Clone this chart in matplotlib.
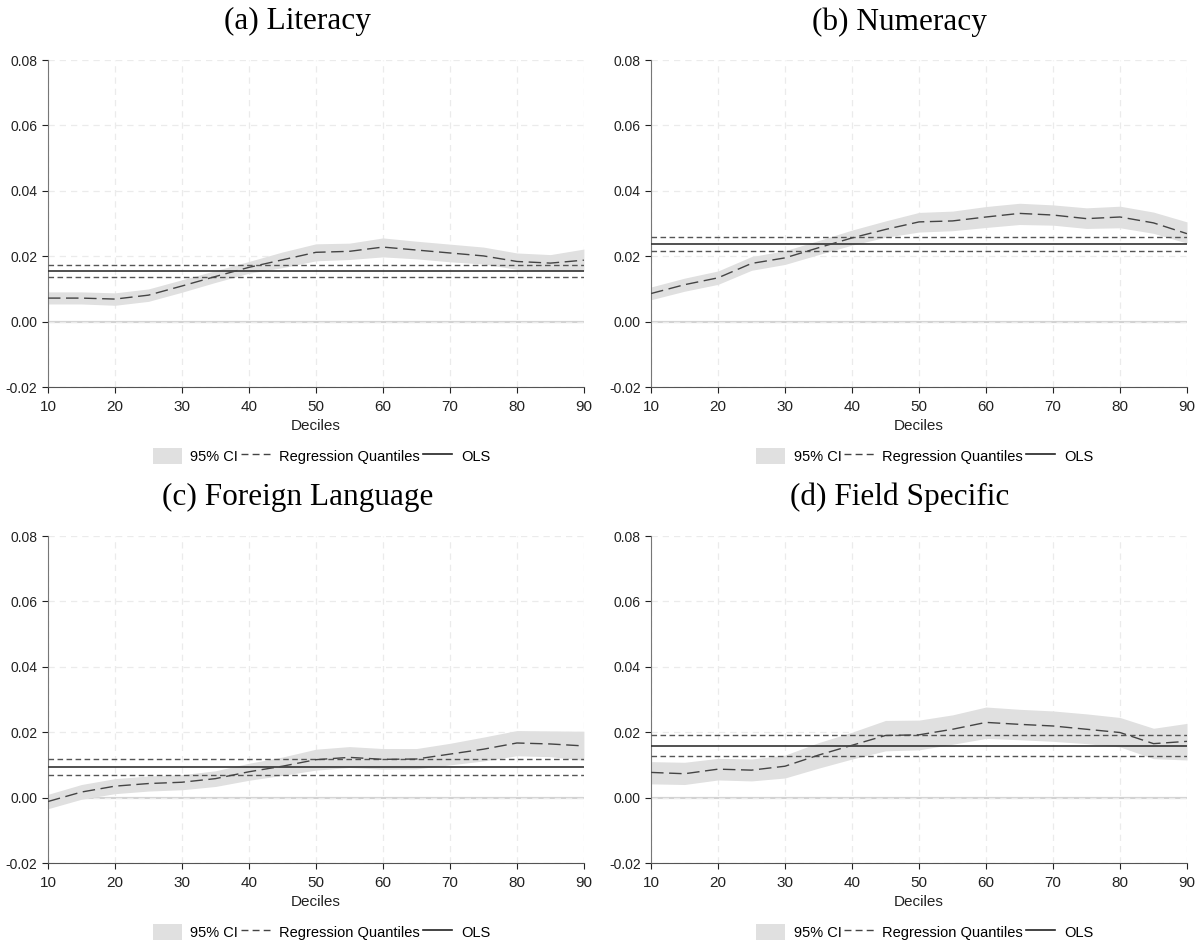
import numpy as np
import matplotlib
matplotlib.use("Agg")
from matplotlib import pyplot as plt
from matplotlib.patches import Patch
from matplotlib.lines import Line2D

plt.rcParams['font.family'] = ['Liberation Sans', 'DejaVu Sans']

deciles = [10, 15, 20, 25, 30, 35, 40, 45, 50, 55, 60, 65, 70, 75, 80, 85, 90]

titles = ["(a) Literacy", "(b) Numeracy", "(c) Foreign Language", "(d) Field Specific"]

# quantile regression estimates
lit_q = [0.0072, 0.0072, 0.0069, 0.0081, 0.0109, 0.0138, 0.0166, 0.0189, 0.0212, 0.0215, 0.0228, 0.0219, 0.0210, 0.0201, 0.0184, 0.0179, 0.0188]
num_q = [0.0086, 0.0113, 0.0134, 0.0178, 0.0195, 0.0226, 0.0256, 0.0282, 0.0305, 0.0308, 0.0320, 0.0331, 0.0326, 0.0315, 0.0320, 0.0302, 0.0269]
for_q = [-0.0012, 0.0017, 0.0035, 0.0043, 0.0047, 0.0058, 0.0079, 0.0096, 0.0116, 0.0123, 0.0117, 0.0118, 0.0133, 0.0148, 0.0167, 0.0164, 0.0158]
fld_q = [0.0077, 0.0073, 0.0087, 0.0084, 0.0096, 0.0130, 0.0160, 0.0190, 0.0192, 0.0209, 0.0230, 0.0224, 0.0219, 0.0209, 0.0199, 0.0165, 0.0172]

# 95% CI bounds
lit_lo = [0.0054, 0.0054, 0.0050, 0.0062, 0.0090, 0.0120, 0.0148, 0.0165, 0.0186, 0.0190, 0.0198, 0.0192, 0.0183, 0.0176, 0.0160, 0.0155, 0.0155]
lit_hi = [0.0091, 0.0091, 0.0088, 0.0100, 0.0128, 0.0156, 0.0184, 0.0213, 0.0238, 0.0240, 0.0256, 0.0246, 0.0237, 0.0228, 0.0210, 0.0205, 0.0222]
num_lo = [0.0067, 0.0093, 0.0114, 0.0157, 0.0175, 0.0205, 0.0234, 0.0258, 0.0274, 0.0278, 0.0288, 0.0297, 0.0295, 0.0285, 0.0287, 0.0270, 0.0240]
num_hi = [0.0106, 0.0133, 0.0155, 0.0199, 0.0217, 0.0248, 0.0280, 0.0308, 0.0334, 0.0338, 0.0352, 0.0362, 0.0357, 0.0348, 0.0353, 0.0335, 0.0305]
for_lo = [-0.0034, -0.0005, 0.0012, 0.0020, 0.0024, 0.0034, 0.0053, 0.0068, 0.0084, 0.0092, 0.0087, 0.0088, 0.0100, 0.0112, 0.0128, 0.0125, 0.0114]
for_hi = [0.0010, 0.0040, 0.0058, 0.0066, 0.0070, 0.0082, 0.0105, 0.0124, 0.0148, 0.0156, 0.0150, 0.0150, 0.0166, 0.0185, 0.0205, 0.0204, 0.0203]
fld_lo = [0.0042, 0.0040, 0.0054, 0.0051, 0.0060, 0.0090, 0.0118, 0.0143, 0.0146, 0.0163, 0.0181, 0.0177, 0.0172, 0.0165, 0.0155, 0.0119, 0.0115]
fld_hi = [0.0110, 0.0108, 0.0120, 0.0118, 0.0130, 0.0168, 0.0200, 0.0236, 0.0237, 0.0253, 0.0277, 0.0270, 0.0265, 0.0256, 0.0245, 0.0212, 0.0227]

# OLS estimate with its CI (lo, est, hi)
ols_lit = [0.0136, 0.0156, 0.0174]
ols_num = [0.0217, 0.0238, 0.0260]
ols_for = [0.0069, 0.0094, 0.0117]
ols_fld = [0.0126, 0.0157, 0.0190]

quant = [lit_q, num_q, for_q, fld_q]
lows = [lit_lo, num_lo, for_lo, fld_lo]
highs = [lit_hi, num_hi, for_hi, fld_hi]
ols = [ols_lit, ols_num, ols_for, ols_fld]

xticks = [10, 20, 30, 40, 50, 60, 70, 80, 90]
yticks = [-0.02, 0.00, 0.02, 0.04, 0.06, 0.08]

fig = plt.figure(figsize=(11.99, 9.47), dpi=100)
lefts = [0.040, 0.543, 0.040, 0.543]
bottoms = [0.5913, 0.5913, 0.0887, 0.0887]
w, h = 0.447, 0.3453
title_x = [0.248, 0.750, 0.248, 0.750]
title_y = [0.977, 0.977, 0.4748, 0.4748]

for i in range(4):
    ax = fig.add_axes([lefts[i], bottoms[i], w, h])
    ax.fill_between(deciles, lows[i], highs[i], color='#e0e0e0', lw=0, zorder=1)
    ax.axhline(0, color='#d2d2d2', lw=1.6, zorder=0.5)
    ax.axhline(ols[i][1], color='#333333', lw=1.2, zorder=3)
    ax.axhline(ols[i][0], color='#555555', lw=1.0, ls=(0, (4, 2.5)), zorder=3)
    ax.axhline(ols[i][2], color='#555555', lw=1.0, ls=(0, (4, 2.5)), zorder=3)
    ax.plot(deciles, quant[i], color='#444444', lw=1.0, ls=(0, (9, 4)), zorder=4)
    ax.set_xlim(10, 90)
    ax.set_ylim(-0.02, 0.08)
    ax.set_xticks(xticks)
    ax.set_yticks(yticks)
    ax.set_yticklabels(['-0.02', '0.00', '0.02', '0.04', '0.06', '0.08'])
    ax.grid(True, color='#ebebeb', ls=(0, (5, 4)), lw=0.9, zorder=0)
    ax.set_axisbelow(True)
    for s in ['top', 'right']:
        ax.spines[s].set_visible(False)
    ax.spines['left'].set_color('#777777')
    ax.spines['bottom'].set_color('#555555')
    ax.tick_params(axis='both', labelsize=10, colors='#222222', length=4, width=0.8)
    ax.tick_params(axis='x', labelsize=11, pad=5)
    ax.set_xlabel('Deciles', fontsize=11, color='#222222', labelpad=4)
    fig.text(title_x[i], title_y[i], titles[i], fontsize=22.5, ha='center', va='center',
             family=['Liberation Serif', 'DejaVu Serif'])
    handles = [Patch(facecolor='#e0e0e0', edgecolor='none'),
               Line2D([0], [0], color='#444444', lw=1.0, ls=(0, (5, 3))),
               Line2D([0], [0], color='#222222', lw=1.2)]
    ax.legend(handles, ['95% CI', 'Regression Quantiles', 'OLS'], loc='upper center',
              bbox_to_anchor=(0.51, -0.145), ncol=3, frameon=False, fontsize=10.5,
              handlelength=2.0, handleheight=1.4, columnspacing=0.2, handletextpad=0.6)

fig.savefig('out.png', dpi=100)
